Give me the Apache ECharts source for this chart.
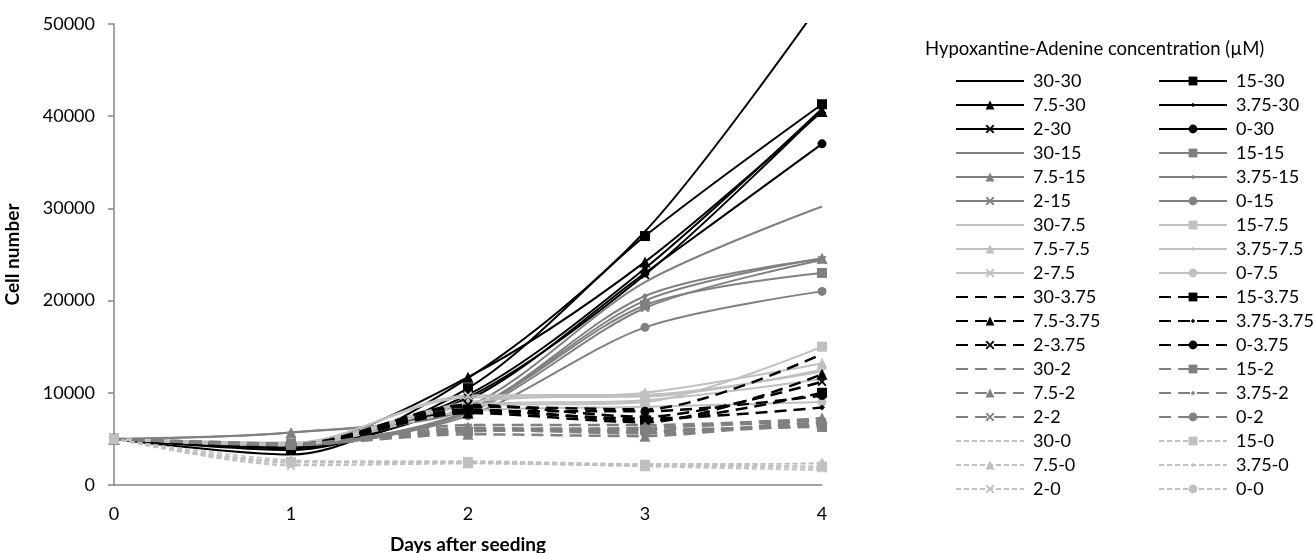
<!DOCTYPE html>
<html>
<head>
<meta charset="utf-8">
<script src="https://cdn.jsdelivr.net/npm/echarts@6/dist/echarts.min.js"></script>
<style>
  html, body { margin: 0; padding: 0; background: #fff; }
  #chart { width: 1313px; height: 553px; }
</style>
</head>
<body>
<div id="chart"></div>
<script>
// days after seeding
const days = [0, 1, 2, 3, 4];
// hypoxanthine / adenine concentrations (uM)
const hypoxanthine = ["30", "15", "7.5", "3.75", "2", "0"];
const adenine = ["30", "15", "7.5", "3.75", "2", "0"];

// cell numbers, one row per hypoxanthine level, grouped by adenine level
const ade30 = [
  [5000, 3300, 11600, 27500, 52500],
  [5000, 3800, 10500, 27000, 41300],
  [5000, 4500, 11700, 24200, 40500],
  [5000, 4200, 9800, 23500, 40800],
  [5000, 4000, 9500, 22800, 40700],
  [5000, 4300, 9200, 23000, 37000],
];
const ade15 = [
  [5000, 5700, 8500, 22000, 30200],
  [5000, 4500, 8000, 19500, 23000],
  [5000, 5700, 8200, 20000, 24600],
  [5000, 4400, 8000, 20500, 24500],
  [5000, 4300, 7800, 19200, 24400],
  [5000, 4300, 7500, 17100, 21000],
];
const ade7_5 = [
  [5000, 4500, 9500, 9600, 12500],
  [5000, 4300, 8500, 9000, 15000],
  [5000, 4600, 9000, 10000, 13200],
  [5000, 4400, 8700, 9200, 11500],
  [5000, 4400, 9700, 9800, 12300],
  [5000, 4300, 8000, 8500, 9000],
];
const ade3_75 = [
  [5000, 4400, 8500, 8200, 14200],
  [5000, 4300, 8200, 7000, 10000],
  [5000, 4200, 7800, 6800, 12000],
  [5000, 4200, 8000, 7200, 8400],
  [5000, 4100, 8700, 7400, 11200],
  [5000, 4300, 8000, 8000, 9700],
];
const ade2 = [
  [5000, 4400, 6000, 6200, 7000],
  [5000, 4500, 5800, 6000, 6300],
  [5000, 4400, 5500, 5300, 7300],
  [5000, 4400, 6500, 6500, 7200],
  [5000, 4300, 6200, 5800, 6800],
  [5000, 4500, 6000, 5600, 6600],
];
const ade0 = [
  [5000, 2200, 2400, 2000, 1600],
  [5000, 2500, 2500, 2200, 2000],
  [5000, 2700, 2400, 2100, 2400],
  [5000, 2600, 2600, 2300, 2300],
  [5000, 2100, 2300, 2100, 1800],
  [5000, 2400, 2500, 2200, 2000],
];

const groups = [ade30, ade15, ade7_5, ade3_75, ade2, ade0];

// line look per adenine level
const lineStyles = [
  { color: "#000000", type: "solid", width: 2 },
  { color: "#808080", type: "solid", width: 2 },
  { color: "#c0c0c0", type: "solid", width: 2 },
  { color: "#000000", type: [12, 7], width: 2.5 },
  { color: "#808080", type: [12, 7], width: 2.5 },
  { color: "#c0c0c0", type: [5, 3], width: 1.5 },
];
// marker per hypoxanthine level
const crossPath = "path://M0,1.5L1.5,0L5,3.5L8.5,0L10,1.5L6.5,5L10,8.5L8.5,10L5,6.5L1.5,10L0,8.5L3.5,5Z";
// small diamond padded inside a 10x10 box so it stays small in the legend too
const dotPath = "path://M0,0L0.01,0L0,0.01Z M10,10L9.99,10L10,9.99Z M5,2.5L7.5,5L5,7.5L2.5,5Z";
const markers = [
  { symbol: "circle", size: 0, show: false },
  { symbol: "rect", size: 10, show: true },
  { symbol: "triangle", size: 11, show: true },
  { symbol: dotPath, size: 12, show: true },
  { symbol: crossPath, size: 9, show: true },
  { symbol: "circle", size: 9, show: true },
];

const series = [];
const names = [];
groups.forEach((rows, a) => {
  rows.forEach((vals, h) => {
    const name = hypoxanthine[h] + "-" + adenine[a];
    names.push(name);
    const ls = lineStyles[a];
    const mk = markers[h];
    series.push({
      name: name,
      type: "line",
      smooth: 0.3,
      data: days.map((d, i) => [d, vals[i]]),
      symbol: mk.symbol,
      symbolSize: mk.size,
      showSymbol: mk.show,
      lineStyle: { color: ls.color, width: ls.width, type: ls.type },
      itemStyle: { color: ls.color, borderWidth: 0 },
      emphasis: { disabled: true },
    });
  });
});

// legend items; lines without markers get an invisible legend symbol
const legendItems = names.map((n, i) =>
  markers[i % 6].show ? { name: n } : { name: n, itemStyle: { opacity: 0 } }
);
const leftCol = legendItems.filter((n, i) => i % 2 === 0);
const rightCol = legendItems.filter((n, i) => i % 2 === 1);

const font = "Lato, 'Noto Sans', sans-serif";
const legendBase = {
  orient: "vertical",
  top: 67,
  itemWidth: 68,
  itemHeight: 11,
  itemGap: 6,
  textStyle: {
    fontFamily: font, fontSize: 18, color: "#000",
    lineHeight: 16, padding: [0, 0, 0, 4],
  },
};

const chart = echarts.init(document.getElementById("chart"));
chart.setOption({
  animation: false,
  backgroundColor: "#fff",
  title: {
    text: "Hypoxantine-Adenine concentration (\u00b5M)",
    left: 920,
    top: 35,
    textStyle: { fontFamily: font, fontSize: 18.5, fontWeight: "normal", color: "#000" },
  },
  legend: [
    Object.assign({}, legendBase, { left: 950, data: leftCol }),
    Object.assign({}, legendBase, { left: 1153, data: rightCol }),
  ],
  grid: {
    left: 114, right: 491, top: 24, bottom: 68,
    containLabel: false, outerBoundsMode: "none",
  },
  xAxis: {
    type: "value",
    min: 0,
    max: 4,
    interval: 1,
    name: "Days after seeding",
    nameLocation: "middle",
    nameGap: 50,
    nameTextStyle: { fontFamily: font, fontSize: 19, fontWeight: "bold", color: "#000" },
    axisLine: { lineStyle: { color: "#868686", width: 1.5 } },
    axisTick: { show: false },
    splitLine: { show: false },
    axisLabel: { fontFamily: font, fontSize: 18, color: "#000", margin: 20 },
  },
  yAxis: {
    type: "value",
    min: 0,
    max: 50000,
    interval: 10000,
    name: "Cell number",
    nameLocation: "middle",
    nameGap: 92,
    nameTextStyle: { fontFamily: font, fontSize: 19, fontWeight: "bold", color: "#000" },
    axisLine: { show: true, lineStyle: { color: "#868686", width: 1.5 } },
    axisTick: { show: true, length: 6, lineStyle: { color: "#868686", width: 1.5 } },
    splitLine: { show: false },
    axisLabel: {
      fontFamily: font, fontSize: 18, color: "#000", margin: 19,
      formatter: (v) => String(v),
    },
  },
  series: series,
});
</script>
</body>
</html>
